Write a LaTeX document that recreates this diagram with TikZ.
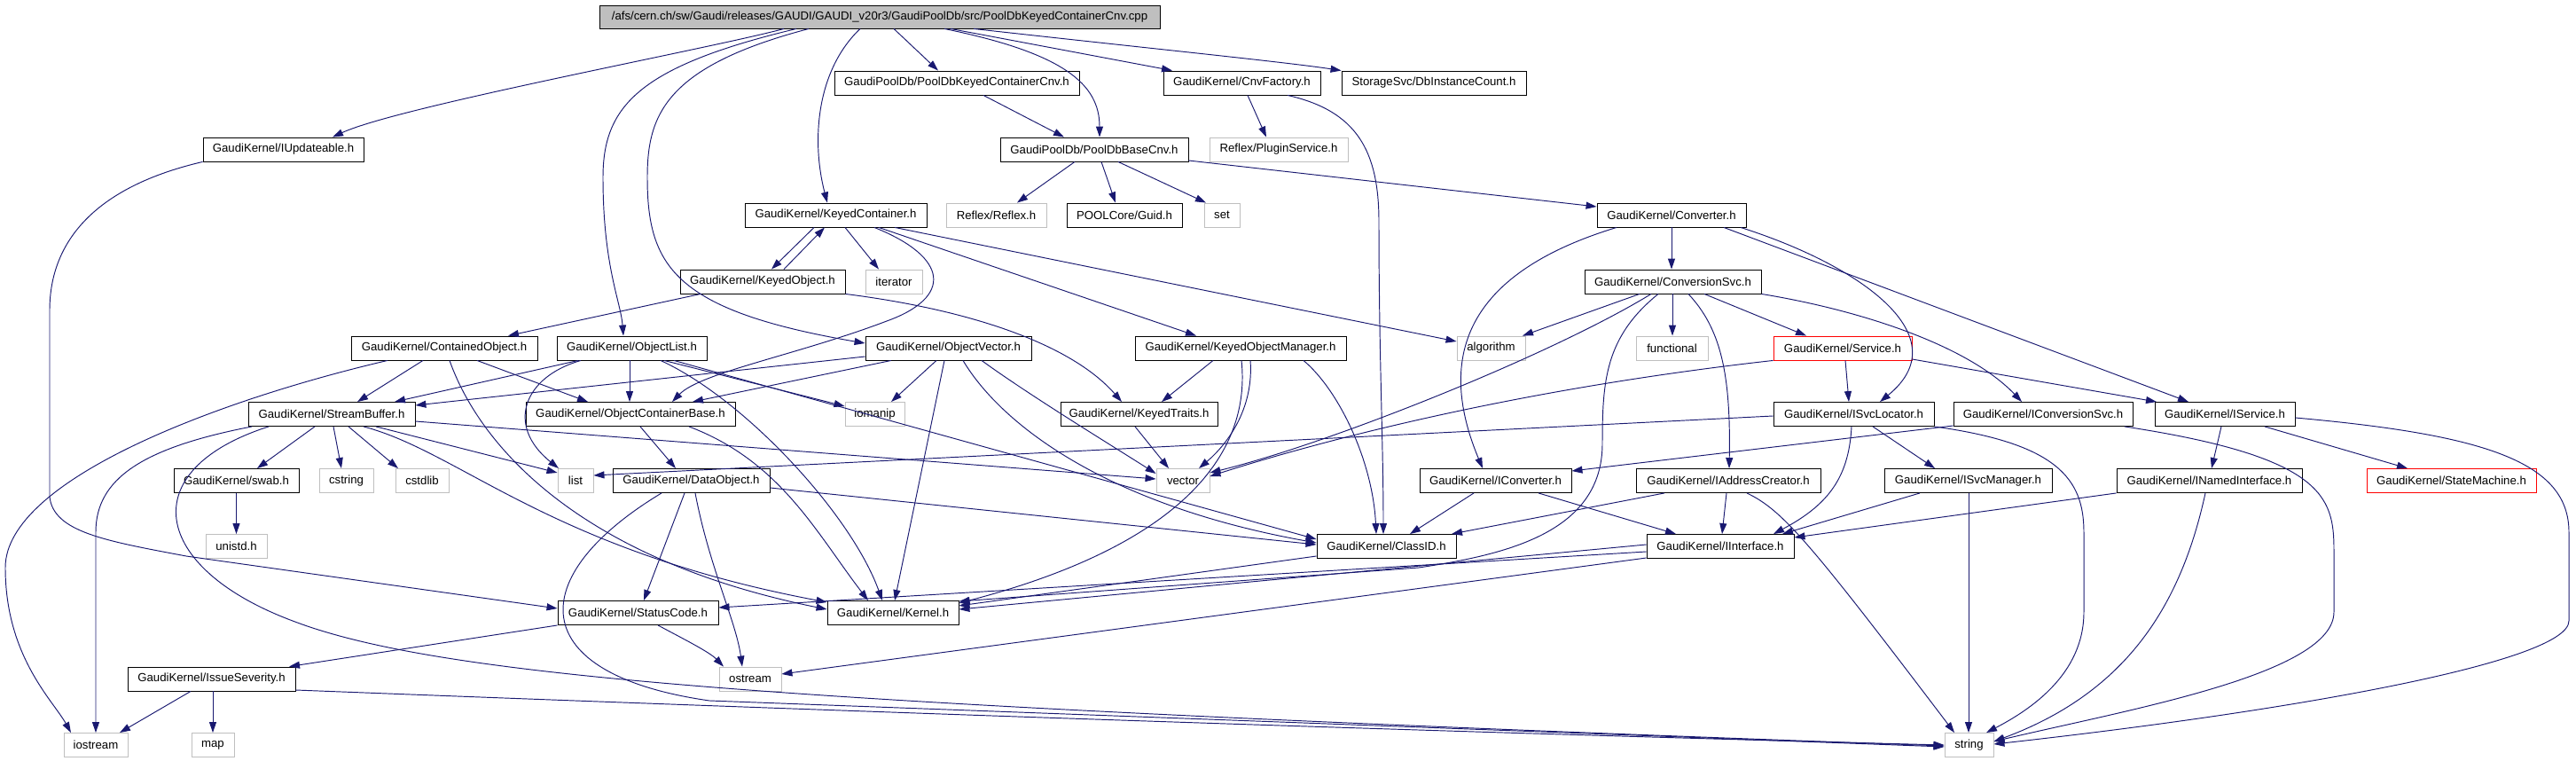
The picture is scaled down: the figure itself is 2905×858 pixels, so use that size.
\documentclass[tikz,border=0pt]{standalone}
\usepackage{fontspec}
\setmainfont{Liberation Sans}
\usetikzlibrary{arrows.meta}
\definecolor{edgec}{RGB}{25,25,112}
\definecolor{grayb}{RGB}{191,191,191}
\begin{document}
\begin{tikzpicture}[x=1pt,y=-1pt,
  box/.style={draw=black, line width=0.9pt, inner sep=0pt, minimum height=27pt, font=\fontsize{13.2}{15}\selectfont},
  sys/.style={box, draw=grayb},
  redb/.style={box, draw=red},
  rootb/.style={box, fill=grayb, minimum height=26pt},
  e/.style={draw=edgec, line width=0.95pt, -{Triangle[length=12pt,width=8pt]}}]
\useasboundingbox (0,0) rectangle (2905,858);
% nodes
\node[rootb, minimum width=632pt] (R) at (992,19) {/afs/cern.ch/sw/Gaudi/releases/GAUDI/GAUDI\_v20r3/GaudiPoolDb/src/PoolDbKeyedContainerCnv.cpp};
\node[box, minimum width=181pt] (upd) at (319.5,168.5) {GaudiKernel/IUpdateable.h};
\node[box, minimum width=276pt] (pdkcc) at (1079,93.5) {GaudiPoolDb/PoolDbKeyedContainerCnv.h};
\node[box, minimum width=177pt] (cnvf) at (1400.5,93.5) {GaudiKernel/CnvFactory.h};
\node[box, minimum width=208pt] (dbic) at (1617,93.5) {StorageSvc/DbInstanceCount.h};
\node[box, minimum width=212pt] (pdbc) at (1234,168.5) {GaudiPoolDb/PoolDbBaseCnv.h};
\node[sys, minimum width=156pt] (plug) at (1442,168.5) {Reflex/PluginService.h};
\node[box, minimum width=205pt] (kc) at (942.5,242.5) {GaudiKernel/KeyedContainer.h};
\node[sys, minimum width=113pt] (refl) at (1123.5,242.5) {Reflex/Reflex.h};
\node[box, minimum width=130pt] (guid) at (1268,242.5) {POOLCore/Guid.h};
\node[sys, minimum width=40pt] (set) at (1378,242.5) {set};
\node[box, minimum width=168pt] (conv) at (1885,242.5) {GaudiKernel/Converter.h};
\node[box, minimum width=186pt] (ko) at (860,317.5) {GaudiKernel/KeyedObject.h};
\node[sys, minimum width=64pt] (iter) at (1008,317.5) {iterator};
\node[box, minimum width=199pt] (csvc) at (1886.5,317.5) {GaudiKernel/ConversionSvc.h};
\node[box, minimum width=210pt] (co) at (501,392.5) {GaudiKernel/ContainedObject.h};
\node[box, minimum width=169pt] (ol) at (712.5,392.5) {GaudiKernel/ObjectList.h};
\node[box, minimum width=187pt] (ov) at (1069.5,392.5) {GaudiKernel/ObjectVector.h};
\node[box, minimum width=238pt] (kom) at (1399,392.5) {GaudiKernel/KeyedObjectManager.h};
\node[sys, minimum width=77pt] (alg) at (1681.5,392.5) {algorithm};
\node[sys, minimum width=81pt] (func) at (1885.5,392.5) {functional};
\node[redb, minimum width=156pt] (svc) at (2078,392.5) {GaudiKernel/Service.h};
\node[box, minimum width=188pt] (sb) at (374,467) {GaudiKernel/StreamBuffer.h};
\node[box, minimum width=236pt] (ocb) at (711,467) {GaudiKernel/ObjectContainerBase.h};
\node[sys, minimum width=67pt] (iom) at (986.5,467) {iomanip};
\node[box, minimum width=177pt] (kt) at (1284.5,467) {GaudiKernel/KeyedTraits.h};
\node[box, minimum width=181pt] (isl) at (2090.5,467) {GaudiKernel/ISvcLocator.h};
\node[box, minimum width=202pt] (icsvc) at (2304,467) {GaudiKernel/IConversionSvc.h};
\node[box, minimum width=158pt] (isvc) at (2509,467) {GaudiKernel/IService.h};
\node[box, minimum width=141pt] (swab) at (266.5,542) {GaudiKernel/swab.h};
\node[sys, minimum width=61pt] (cstr) at (390.5,542) {cstring};
\node[sys, minimum width=60pt] (cstd) at (476,542) {cstdlib};
\node[sys, minimum width=40pt] (list) at (649,542) {list};
\node[box, minimum width=177pt] (dobj) at (779.5,542) {GaudiKernel/DataObject.h};
\node[sys, minimum width=60pt] (vec) at (1334,542) {vector};
\node[box, minimum width=171pt] (icnv) at (1686.5,542) {GaudiKernel/IConverter.h};
\node[box, minimum width=208pt] (iac) at (1949,542) {GaudiKernel/IAddressCreator.h};
\node[box, minimum width=189pt] (ism) at (2219.5,542) {GaudiKernel/ISvcManager.h};
\node[box, minimum width=209pt] (ini) at (2491.5,542) {GaudiKernel/INamedInterface.h};
\node[redb, minimum width=191pt] (sm) at (2764.5,542) {GaudiKernel/StateMachine.h};
\node[sys, minimum width=69pt] (unistd) at (266.5,616) {unistd.h};
\node[box, minimum width=157pt] (cid) at (1563.5,616) {GaudiKernel/ClassID.h};
\node[box, minimum width=166pt] (iif) at (1940,616) {GaudiKernel/IInterface.h};
\node[box, minimum width=181pt] (stc) at (719.5,691) {GaudiKernel/StatusCode.h};
\node[box, minimum width=148pt] (kern) at (1007,691) {GaudiKernel/Kernel.h};
\node[box, minimum width=189pt] (iss) at (238.5,765.5) {GaudiKernel/IssueSeverity.h};
\node[sys, minimum width=70pt] (ost) at (846,765.5) {ostream};
\node[sys, minimum width=72pt] (ios) at (108,840) {iostream};
\node[sys, minimum width=48pt] (map) at (240,840) {map};
\node[sys, minimum width=55pt] (str) at (2220.5,840) {string};
% root edges
\draw[e] (R.south -| 884,0) .. controls (800,55) and (450,120) .. (upd.north -| 375,0);
\draw[e] (R.south -| 898,0) .. controls (720,75) and (680,120) .. (680,200) .. controls (680,300) and (700,340) .. (ol.north -| 703,0);
\draw[e] (R.south -| 912,0) .. controls (750,75) and (730,130) .. (730,200) .. controls (730,300) and (760,350) .. (ov.west |- 0,387);
\draw[e] (R.south -| 970,0) .. controls (920,80) and (915,160) .. (kc.north -| 933,0);
\draw[e] (R.south -| 1008,0) -- (pdkcc.north -| 1058,0);
\draw[e] (R.south -| 1065,0) .. controls (1200,60) and (1240,95) .. (pdbc.north -| 1240,0);
\draw[e] (R.south -| 1072,0) -- (cnvf.north -| 1322,0);
\draw[e] (R.south -| 1098,0) .. controls (1300,55) and (1450,70) .. (dbic.north west);
% upper
\draw[e] (upd.south west) .. controls (110,210) and (56,270) .. (56,350) -- (56,560) .. controls (60,600) and (120,610) .. (210,627) -- (stc.west |- 0,686);
\draw[e] (pdkcc.south -| 1109,0) -- (pdbc.north -| 1200,0);
\draw[e] (cnvf.south -| 1407,0) -- (plug.north -| 1428,0);
\draw[e] (cnvf.south -| 1452,0) .. controls (1530,125) and (1555,170) .. (1555,250) .. controls (1555,400) and (1560,500) .. (cid.north -| 1560,0);
\draw[e] (pdbc.south -| 1212,0) -- (refl.north -| 1147,0);
\draw[e] (pdbc.south -| 1242,0) -- (guid.north -| 1258,0);
\draw[e] (pdbc.south -| 1261,0) -- (set.north -| 1360,0);
\draw[e] (pdbc.east |- 0,181) -- (conv.west |- 0,233);
% keyed container / object
\draw[e] (kc.south -| 918,0) -- (ko.north -| 870,0);
\draw[e] (ko.north -| 884,0) -- (kc.south -| 930,0);
\draw[e] (kc.south -| 953,0) -- (iter.north -| 991,0);
\draw[e] (kc.south -| 986,0) .. controls (1070,290) and (1075,335) .. (1000,362) .. controls (900,400) and (790,420) .. (ocb.north -| 758,0);
\draw[e] (kc.south -| 991,0) -- (kom.north -| 1349,0);
\draw[e] (kc.south -| 1009,0) -- (alg.west |- 0,385);
\draw[e] (ko.south -| 790,0) -- (co.north -| 573,0);
\draw[e] (ko.south east) .. controls (1100,350) and (1210,390) .. (kt.north -| 1265,0);
% contained object
\draw[e] (co.south -| 437,0) .. controls (250,450) and (6,540) .. (6,640) .. controls (6,740) and (60,790) .. (ios.north -| 80,0);
\draw[e] (co.south -| 477,0) -- (sb.north -| 403,0);
\draw[e] (co.south -| 507,0) .. controls (540,500) and (650,630) .. (kern.west |- 0,687);
\draw[e] (co.south -| 538,0) -- (ocb.north -| 663,0);
% object list
\draw[e] (ol.south -| 652,0) -- (sb.north -| 445,0);
\draw[e] (ol.south -| 655,0) .. controls (590,425) and (570,480) .. (list.north -| 630,0);
\draw[e] (ol.south -| 710,0) -- (ocb.north -| 710,0);
\draw[e] (ol.south -| 749,0) -- (iom.west |- 0,458);
\draw[e] (ol.south -| 760,0) -- (cid.west |- 0,608);
\draw[e] (ol.south -| 745,0) .. controls (840,450) and (960,580) .. (kern.north -| 995,0);
% object vector
\draw[e] (ov.west |- 0,402) -- (sb.east |- 0,457);
\draw[e] (ov.south -| 1005,0) -- (ocb.north -| 781,0);
\draw[e] (ov.south -| 1056,0) -- (iom.north -| 1005,0);
\draw[e] (ov.south -| 1065,0) -- (kern.north -| 1009,0);
\draw[e] (ov.south -| 1086,0) .. controls (1130,480) and (1250,570) .. (cid.west |- 0,612);
\draw[e] (ov.south -| 1107,0) .. controls (1160,445) and (1250,500) .. (vec.west |- 0,534);
% keyed object manager
\draw[e] (kom.south -| 1368,0) -- (kt.north -| 1310,0);
\draw[e] (kom.south -| 1410,0) .. controls (1414,460) and (1385,500) .. (vec.north -| 1352,0);
\draw[e] (kom.south -| 1400,0) .. controls (1410,500) and (1350,610) .. (kern.east |- 0,680);
\draw[e] (kom.south -| 1470,0) .. controls (1510,440) and (1548,520) .. (cid.north -| 1552,0);
\draw[e] (kt.south -| 1280,0) -- (vec.north -| 1318,0);
% stream buffer
\draw[e] (sb.south -| 284,0) .. controls (160,505) and (108,540) .. (108,600) -- (ios.north -| 108,0);
\draw[e] (sb.south -| 303,0) .. controls (150,530) and (170,640) .. (330,700) .. controls (500,765) and (900,795) .. (str.west |- 0,841);
\draw[e] (sb.south -| 355,0) -- (swab.north -| 290,0);
\draw[e] (sb.south -| 376,0) -- (cstr.north -| 385,0);
\draw[e] (sb.south -| 393,0) -- (cstd.north -| 449,0);
\draw[e] (sb.south -| 410,0) .. controls (520,510) and (620,620) .. (kern.west |- 0,679);
\draw[e] (sb.south -| 424,0) -- (list.west |- 0,533);
\draw[e] (sb.east |- 0,475) -- (vec.west |- 0,540);
% object container base, data object
\draw[e] (ocb.south -| 722,0) -- (dobj.north -| 762,0);
\draw[e] (ocb.south -| 777,0) .. controls (880,520) and (920,600) .. (kern.north -| 979,0);
\draw[e] (swab.south) -- (unistd.north);
\draw[e] (dobj.east |- 0,550) -- (cid.west |- 0,614);
\draw[e] (dobj.south -| 772,0) -- (stc.north -| 726,0);
\draw[e] (dobj.south -| 784,0) .. controls (800,640) and (830,700) .. (ost.north -| 837,0);
\draw[e] (dobj.south -| 746,0) .. controls (590,650) and (590,760) .. (800,790) -- (str.west |- 0,842);
% issue severity, status code
\draw[e] (iss.south -| 215,0) -- (ios.north -| 135,0);
\draw[e] (iss.south -| 240,0) -- (map.north);
\draw[e] (iss.east |- 0,778) .. controls (900,800) and (1600,825) .. (str.west |- 0,840);
\draw[e] (stc.south west) -- (iss.north -| 326,0);
\draw[e] (stc.south -| 742,0) .. controls (770,720) and (800,735) .. (ost.north -| 816,0);
% classid, iinterface
\draw[e] (cid.west |- 0,627) -- (kern.east |- 0,683);
\draw[e] (iif.west |- 0,614) -- (kern.east |- 0,687);
\draw[e] (iif.west |- 0,622) -- (stc.east |- 0,685);
\draw[e] (iif.west |- 0,629) -- (ost.east |- 0,760);
\draw[e] (icnv.south -| 1662,0) -- (cid.north -| 1590,0);
\draw[e] (icnv.south -| 1735,0) -- (iif.north -| 1890,0);
\draw[e] (iac.south -| 1877,0) -- (cid.north -| 1637,0);
\draw[e] (iac.south -| 1947,0) -- (iif.north -| 1942,0);
\draw[e] (iac.south -| 1970,0) .. controls (2010,575) and (2040,610) .. (str.north -| 2204,0);
\draw[e] (ism.south -| 2165,0) -- (iif.north -| 2010,0);
\draw[e] (ism.south -| 2220,0) -- (str.north -| 2220,0);
% svc locator, service
\draw[e] (isl.west |- 0,469) -- (list.east |- 0,536);
\draw[e] (isl.south -| 2088,0) .. controls (2085,540) and (2060,570) .. (iif.north -| 2000,0);
\draw[e] (isl.south -| 2112,0) -- (ism.north -| 2182,0);
\draw[e] (isl.south east) .. controls (2320,500) and (2350,540) .. (2350,600) -- (2350,690) .. controls (2350,760) and (2290,800) .. (str.north -| 2240,0);
\draw[e] (svc.south -| 2081,0) -- (isl.north -| 2085,0);
\draw[e] (svc.south west) .. controls (1700,440) and (1480,500) .. (vec.east |- 0,537);
\draw[e] (svc.east |- 0,405) -- (isvc.north -| 2432,0);
\draw[e] (icsvc.west |- 0,480) -- (icnv.east |- 0,531);
\draw[e] (icsvc.south -| 2396,0) .. controls (2620,515) and (2632,560) .. (2632,620) -- (2632,690) .. controls (2632,760) and (2400,800) .. (str.east |- 0,836);
\draw[e] (isvc.south -| 2505,0) -- (ini.north -| 2494,0);
\draw[e] (isvc.south -| 2554,0) -- (sm.north -| 2715,0);
\draw[e] (isvc.east |- 0,471) .. controls (2800,490) and (2897,520) .. (2897,600) -- (2897,700) .. controls (2897,745) and (2600,800) .. (str.east |- 0,839);
\draw[e] (ini.south west) -- (iif.east |- 0,606);
\draw[e] (ini.south -| 2487,0) .. controls (2460,680) and (2400,780) .. (str.east |- 0,836);
% converter, conversion svc
\draw[e] (conv.south -| 1885,0) -- (csvc.north -| 1885,0);
\draw[e] (conv.south -| 1823,0) .. controls (1680,300) and (1610,380) .. (icnv.north -| 1672,0);
\draw[e] (conv.south -| 1963,0) .. controls (2100,300) and (2210,380) .. (isl.north -| 2120,0);
\draw[e] (conv.south -| 1944,0) -- (isvc.north -| 2468,0);
\draw[e] (csvc.south -| 1849,0) -- (alg.north -| 1717,0);
\draw[e] (csvc.south -| 1862,0) .. controls (1750,400) and (1500,500) .. (vec.east |- 0,533);
\draw[e] (csvc.south -| 1870,0) .. controls (1810,380) and (1807,430) .. (1807,500) .. controls (1807,600) and (1700,625) .. (1600,640) -- (kern.east |- 0,678);
\draw[e] (csvc.south -| 1886,0) -- (func.north -| 1886,0);
\draw[e] (csvc.south -| 1904,0) .. controls (1940,370) and (1952,420) .. (iac.north -| 1950,0);
\draw[e] (csvc.south -| 1922,0) -- (svc.north -| 2037,0);
\draw[e] (csvc.south east) .. controls (2100,350) and (2220,390) .. (icsvc.north -| 2280,0);
\end{tikzpicture}
\end{document}
